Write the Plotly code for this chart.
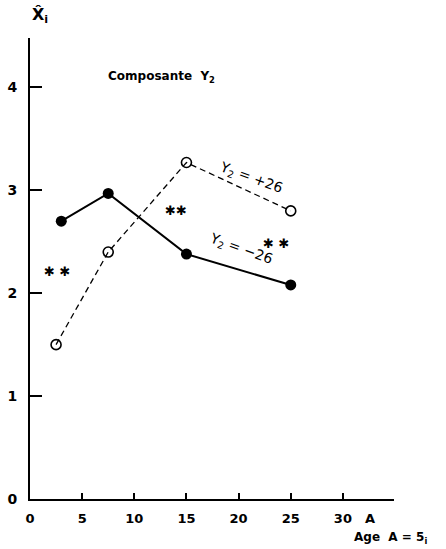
import plotly.graph_objects as go

# Data
age = [3, 7.5, 15, 25]
neg26 = [2.70, 2.97, 2.38, 2.08]          # Y2 = -26, solid line, filled markers
age_pos = [2.5, 7.5, 15, 25]
pos26 = [1.50, 2.40, 3.27, 2.80]          # Y2 = +26, dashed line, open markers
x_ticks = [0, 5, 10, 15, 20, 25, 30]
y_ticks = [0, 1, 2, 3, 4]
stars = [(2.6, 2.21, "✱ ✱"), (14.0, 2.80, "✱✱"), (23.6, 2.48, "✱ ✱")]

FONT = "DejaVu Sans"

fig = go.Figure()
fig.add_trace(go.Scatter(
    x=age_pos, y=pos26, mode="lines+markers",
    line=dict(color="black", width=1.3, dash="6px,4px"),
    marker=dict(symbol="circle-open", size=10, color="black", line=dict(width=1.6)),
    showlegend=False, cliponaxis=False))
fig.add_trace(go.Scatter(
    x=age, y=neg26, mode="lines+markers",
    line=dict(color="black", width=2),
    marker=dict(symbol="circle", size=11, color="black"),
    showlegend=False, cliponaxis=False))

ann = [
    dict(x=12.6, y=4.1, text="<b>Composante  Y<sub>2</sub></b>", font=dict(size=12)),
    dict(x=21.2, y=3.12, text="Y<sub>2</sub> = +26", textangle=20, font=dict(size=14)),
    dict(x=20.2, y=2.43, text="Y<sub>2</sub> = −26", textangle=20, font=dict(size=14)),
]
for sx, sy, st in stars:
    ann.append(dict(x=sx, y=sy, text="<b>%s</b>" % st, font=dict(size=13)))
for a in ann:
    a["xref"] = "x"; a["yref"] = "y"

paper_ann = [
    dict(x=0.028, y=1.048, text="<b>X̂<sub>i</sub></b>", font=dict(size=16)),
    dict(x=0.934, y=-0.043, text="<b>A</b>", font=dict(size=13)),
    dict(x=0.99, y=-0.085, text="<b>Age  A = 5<sub>i</sub></b>", font=dict(size=12)),
]
for a in paper_ann:
    a["xref"] = "paper"; a["yref"] = "paper"
ann += paper_ann
for a in ann:
    a["showarrow"] = False
    a["xanchor"] = "center"; a["yanchor"] = "middle"
    f = a.get("font", {})
    f.setdefault("family", FONT); f["color"] = "black"
    a["font"] = f
fig.update_layout(annotations=ann)

fig.update_layout(
    width=446, height=549,
    margin=dict(l=30, r=52, t=38, b=50),
    plot_bgcolor="white", paper_bgcolor="white",
    font=dict(family=FONT, color="black", size=14),
    xaxis=dict(range=[0, 34.9], tickvals=x_ticks, ticktext=["<b>%d</b>" % v for v in x_ticks],
               showgrid=False, zeroline=False, showline=True, linecolor="black", linewidth=2,
               ticks="inside", ticklen=6, tickwidth=1.5, tickcolor="black", automargin=False,
               ticklabelstandoff=6, tickfont=dict(family=FONT, size=13)),
    yaxis=dict(range=[0, 4.48], tickvals=y_ticks, ticktext=["<b>%d</b>" % v for v in y_ticks],
               showgrid=False, zeroline=False, showline=True, linecolor="black", linewidth=2,
               ticks="inside", ticklen=12, tickwidth=1.5, tickcolor="black", automargin=False,
               ticklabelstandoff=8, tickfont=dict(family=FONT, size=14)),
)

fig.write_html("out.html")
